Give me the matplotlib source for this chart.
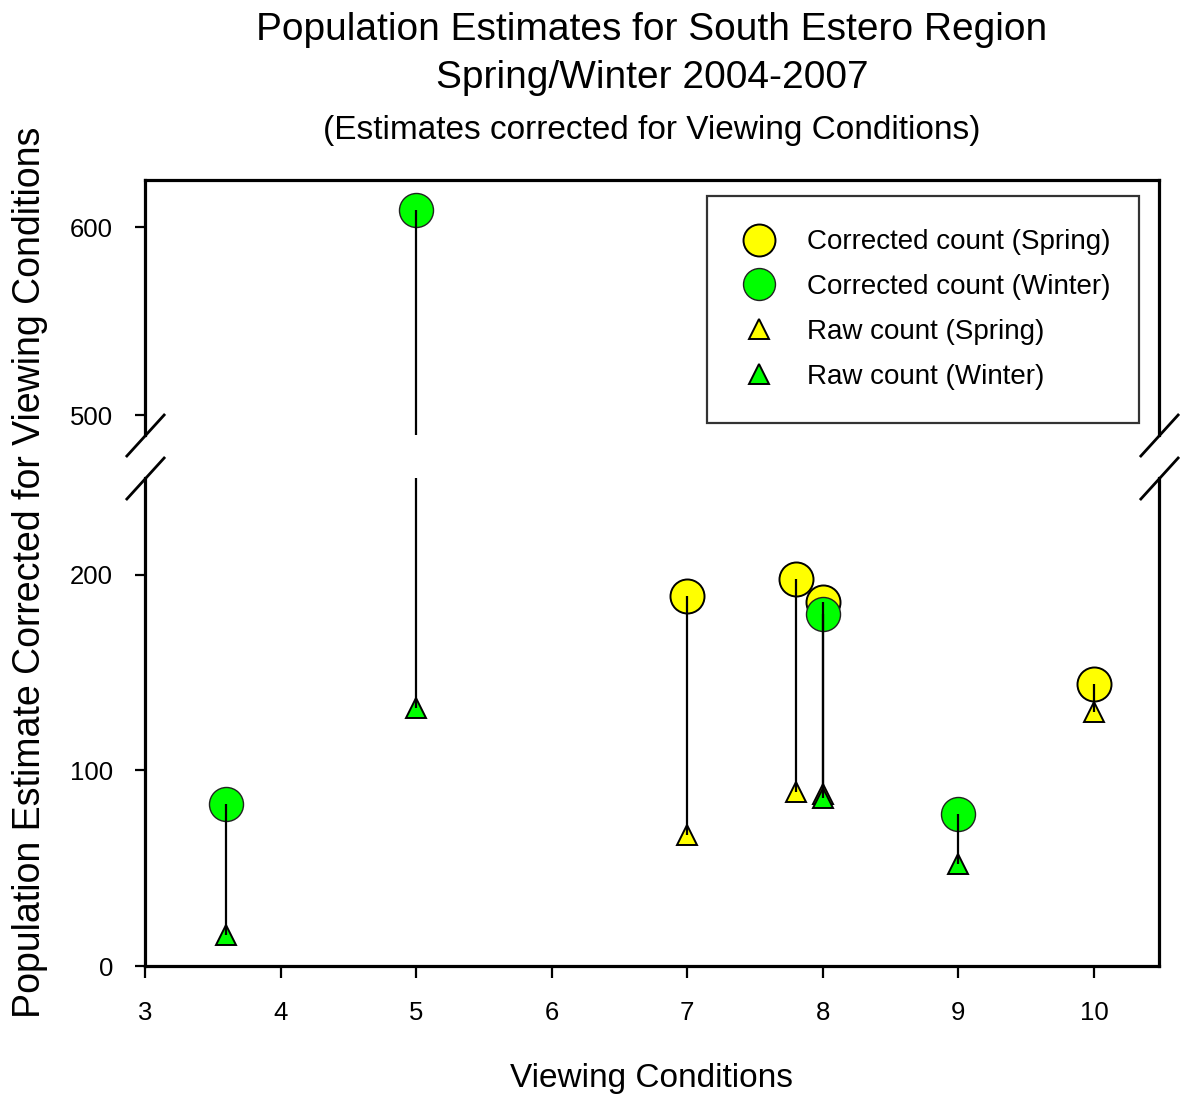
import matplotlib
matplotlib.use("Agg")
import matplotlib.pyplot as plt
from matplotlib.lines import Line2D

plt.rcParams['font.family'] = ['Liberation Sans', 'DejaVu Sans']

# ---- data ----
x_spring = [7, 7.8, 8, 10]
corrected_spring = [189, 198, 186, 144]
raw_spring = [67, 89, 88, 130]

x_winter = [3.6, 5, 8, 9]
corrected_winter = [83, 609, 180, 78]
raw_winter = [16, 132, 86, 52]

x_ticks = [3, 4, 5, 6, 7, 8, 9, 10]
y_ticks_low = [0, 100, 200]
y_ticks_high = [500, 600]

title1 = "Population Estimates for South Estero Region"
title2 = "Spring/Winter 2004-2007"
title3 = "(Estimates corrected for Viewing Conditions)"
xlabel = "Viewing Conditions"
ylabel = "Population Estimate Corrected for Viewing Conditions"
legend_labels = ["Corrected count (Spring)", "Corrected count (Winter)",
                 "Raw count (Spring)", "Raw count (Winter)"]

YELLOW = '#ffff00'
GREEN = '#00ff00'

W, H = 1180, 1097
fig = plt.figure(figsize=(W / 100, H / 100), dpi=100)

L, R = 145 / W, 1159 / W
ax_low = fig.add_axes([L, 1 - 966 / H, R - L, (966 - 478) / H])
ax_high = fig.add_axes([L, 1 - 435 / H, R - L, (435 - 180) / H])

CIRC = 24.5
TRI = 15
for ax in (ax_low, ax_high):
    # corrected circles
    ax.plot(x_spring, corrected_spring, 'o', ms=CIRC, mfc=YELLOW, mec='k', mew=1.4, zorder=3)
    ax.plot(x_winter, corrected_winter, 'o', ms=CIRC, mfc=GREEN, mec='#222222', mew=1.0, zorder=4)
    # raw triangles
    ax.plot(x_spring, raw_spring, '^', ms=TRI, mfc=YELLOW, mec='k', mew=1.4, zorder=5)
    ax.plot(x_winter, raw_winter, '^', ms=TRI, mfc=GREEN, mec='k', mew=1.4, zorder=6)
    # connecting lines
    ax.vlines(x_spring, raw_spring, corrected_spring, colors='k', lw=1.6, zorder=7)
    ax.vlines(x_winter, raw_winter, corrected_winter, colors='k', lw=1.6, zorder=7)
    ax.set_xlim(3, 10.48)
    for s in ax.spines.values():
        s.set_linewidth(2.3)
    ax.tick_params(axis='both', direction='out', width=1.6, labelsize=18.5, right=False, top=False)
    ax.tick_params(axis='y', length=7, pad=16)
    ax.tick_params(axis='x', length=8.5, pad=17)

ax_low.set_ylim(0, 249.6)
ax_high.set_ylim(489.4, 625)
ax_low.set_yticks(y_ticks_low)
ax_high.set_yticks(y_ticks_high)
ax_low.set_xticks(x_ticks)
ax_high.set_xticks([])
ax_low.spines['top'].set_visible(False)
ax_high.spines['bottom'].set_visible(False)

# break marks
bk = dict(marker=[(-1, -1.1), (1, 1.1)], markersize=31, linestyle='none',
          color='k', mec='k', mew=2.0, clip_on=False)
ax_high.plot([0, 1], [0, 0], transform=ax_high.transAxes, **bk)
ax_low.plot([0, 1], [1, 1], transform=ax_low.transAxes, **bk)

# titles and labels
cx = 652 / W
fig.text(cx, 1 - 30 / H, title1, ha='center', va='center', fontsize=28)
fig.text(cx, 1 - 78 / H, title2, ha='center', va='center', fontsize=28)
fig.text(cx, 1 - 130 / H, title3, ha='center', va='center', fontsize=24)
fig.text(cx, 1 - 1078 / H, xlabel, ha='center', va='center', fontsize=24)
fig.text(30 / W, 1 - 572 / H, ylabel, ha='center', va='center', rotation=90, fontsize=27)

handles = [
    Line2D([], [], ls='none', marker='o', ms=23, mfc=YELLOW, mec='k', mew=1.4),
    Line2D([], [], ls='none', marker='o', ms=23, mfc=GREEN, mec='#222222', mew=1.0),
    Line2D([], [], ls='none', marker='^', ms=14, mfc=YELLOW, mec='k', mew=1.4),
    Line2D([], [], ls='none', marker='^', ms=14, mfc=GREEN, mec='k', mew=1.4),
]
leg = fig.legend(handles, legend_labels, loc='upper left',
                 bbox_to_anchor=(707 / W, 1 - 422 / H, (1139 - 707) / W, (422 - 196) / H),
                 mode='expand', borderaxespad=0,
                 fontsize=20, frameon=True, fancybox=False, shadow=False,
                 borderpad=1.2, labelspacing=0.68, handlelength=1.37,
                 handletextpad=1.04)
leg.get_frame().set_edgecolor('k')
leg.get_frame().set_linewidth(1.6)

fig.savefig('out.png', dpi=100)
